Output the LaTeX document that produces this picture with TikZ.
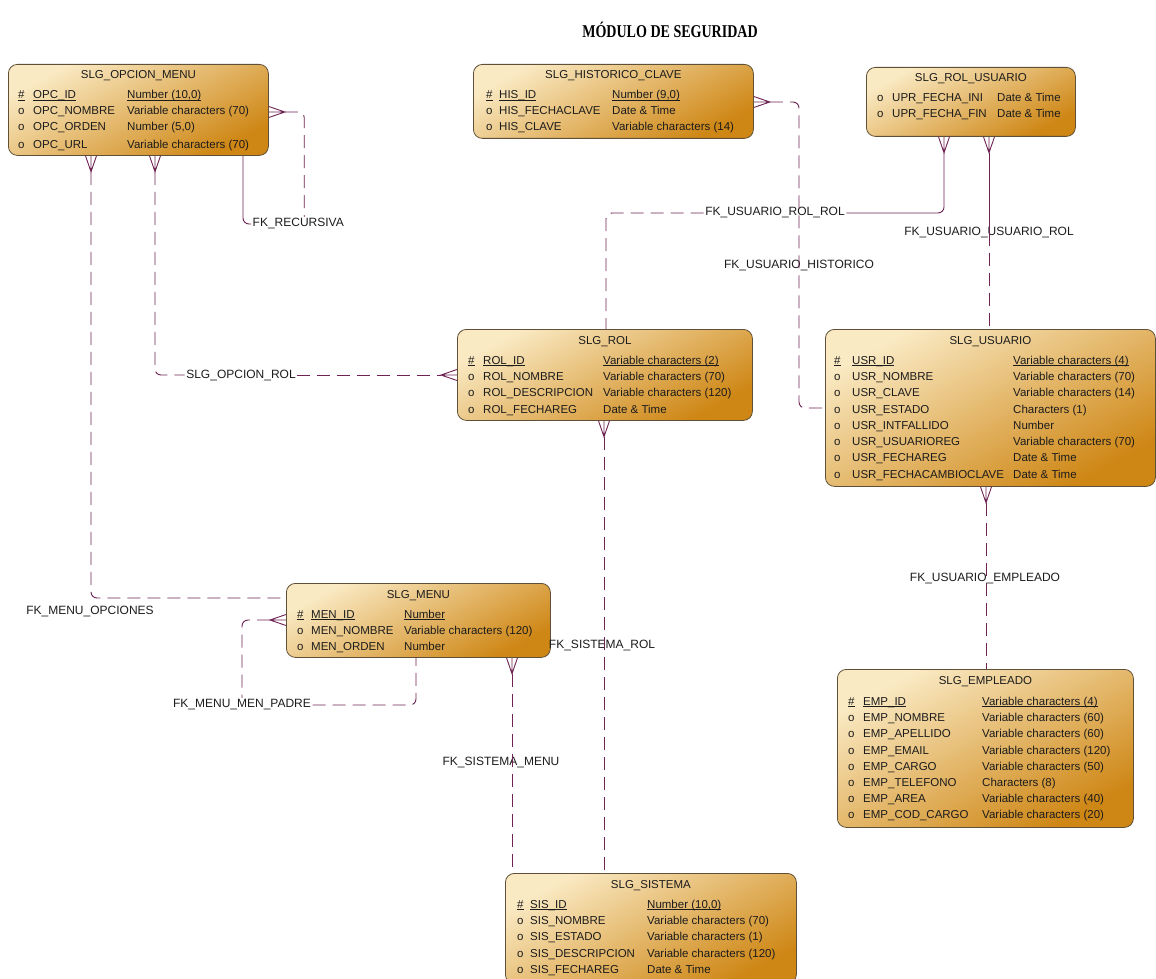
\documentclass[tikz,border=0pt]{standalone}
\usepackage{fontspec}
\usepackage{graphicx}
\setmainfont{Liberation Sans}
\newfontfamily\titlefont{Liberation Serif}
\usetikzlibrary{calc}
\definecolor{relc}{RGB}{110,35,82}
\definecolor{boxlight}{RGB}{250,234,196}
\definecolor{boxmid}{RGB}{234,176,90}
\definecolor{boxdark}{RGB}{206,134,20}
\definecolor{boxedge}{RGB}{95,80,55}
\definecolor{txt}{RGB}{28,28,28}
\newcommand\ulx[1]{\setbox0\hbox{#1}\rlap{\rule[-1.7pt]{\wd0}{0.6pt}}\box0}
\tikzset{
  entity/.style={draw=boxedge, line width=0.8pt, rounded corners=9pt,
    top color=boxlight, middle color=boxmid, bottom color=boxdark, shading angle=28,
    anchor=north west, inner sep=0pt},
  etitle/.style={font=\fontsize{11.5}{12}\selectfont, text=txt, inner sep=0pt, anchor=base},
  fld/.style={font=\fontsize{11.5}{12}\selectfont, text=txt, inner sep=0pt, anchor=base west},
  rlabel/.style={font=\fontsize{12}{13}\selectfont, text=txt, inner sep=1.5pt},
  relline/.style={draw=relc, line width=0.9pt, rounded corners=6pt},
  reldash/.style={relline, dash pattern=on 13pt off 7pt},
  cfdown/.pic={\draw[draw=relc, line width=0.9pt] (-5.5,0) -- (0,-16) -- (5.5,0) (0,0) -- (0,-16);},
  cfright/.pic={\draw[draw=relc, line width=0.9pt] (0,5.5) -- (16,0) -- (0,-5.5) (0,0) -- (16,0);},
  cfleft/.pic={\draw[draw=relc, line width=0.9pt] (0,5.5) -- (-16,0) -- (0,-5.5) (0,0) -- (-16,0);}
}
\newcommand\ent[6]{%
  \node[entity, minimum width=#4pt, minimum height=#5pt] (#1) at (#2,-#3) {};
  \node[etitle] (#1-title) at ($(#1.north)+(0,-15)$) {#6};}
\newcommand\fld[8]{%
  \node[fld] (#1m) at (#3,-#2) {#6};
  \node[fld] (#1n) at (#4,-#2) {#7};
  \node[fld] (#1t) at (#5,-#2) {#8};}
\begin{document}
\begin{tikzpicture}[x=1pt,y=1pt]
\fill[white] (0,0) rectangle (1156,-979);
\useasboundingbox (0,0) rectangle (1156,-979);

\node[font=\titlefont\bfseries\fontsize{18}{20}\selectfont, text=black] (title) at (670,-30)
  {\scalebox{0.78}[1]{MÓDULO DE SEGURIDAD}};

% ---------------- entities ----------------
\ent{opc}{8}{64}{260}{91}{SLG\_OPCION\_MENU}
\fld{opc1}{99}{18}{33}{127}{\ulx{\#}}{\ulx{OPC\_ID}}{\ulx{Number (10,0)}}
\fld{opc2}{115}{18}{33}{127}{o}{OPC\_NOMBRE}{Variable characters (70)}
\fld{opc3}{131}{18}{33}{127}{o}{OPC\_ORDEN}{Number (5,0)}
\fld{opc4}{148}{18}{33}{127}{o}{OPC\_URL}{Variable characters (70)}

\ent{his}{473}{64}{280}{74}{SLG\_HISTORICO\_CLAVE}
\fld{his1}{99}{486}{499}{612}{\ulx{\#}}{\ulx{HIS\_ID}}{\ulx{Number (9,0)}}
\fld{his2}{115}{486}{499}{612}{o}{HIS\_FECHACLAVE}{Date \& Time}
\fld{his3}{131}{486}{499}{612}{o}{HIS\_CLAVE}{Variable characters (14)}

\ent{ru}{866}{67}{209}{69}{SLG\_ROL\_USUARIO}
\fld{ru1}{102}{877}{892}{997}{o}{UPR\_FECHA\_INI}{Date \& Time}
\fld{ru2}{118}{877}{892}{997}{o}{UPR\_FECHA\_FIN}{Date \& Time}

\ent{rol}{457}{329}{295}{91}{SLG\_ROL}
\fld{rol1}{364}{468}{483}{603}{\ulx{\#}}{\ulx{ROL\_ID}}{\ulx{Variable characters (2)}}
\fld{rol2}{380}{468}{483}{603}{o}{ROL\_NOMBRE}{Variable characters (70)}
\fld{rol3}{396}{468}{483}{603}{o}{ROL\_DESCRIPCION}{Variable characters (120)}
\fld{rol4}{413}{468}{483}{603}{o}{ROL\_FECHAREG}{Date \& Time}

\ent{usr}{825}{329}{330}{157}{SLG\_USUARIO}
\fld{usr1}{364}{834}{852}{1013}{\ulx{\#}}{\ulx{USR\_ID}}{\ulx{Variable characters (4)}}
\fld{usr2}{380}{834}{852}{1013}{o}{USR\_NOMBRE}{Variable characters (70)}
\fld{usr3}{396}{834}{852}{1013}{o}{USR\_CLAVE}{Variable characters (14)}
\fld{usr4}{413}{834}{852}{1013}{o}{USR\_ESTADO}{Characters (1)}
\fld{usr5}{429}{834}{852}{1013}{o}{USR\_INTFALLIDO}{Number}
\fld{usr6}{445}{834}{852}{1013}{o}{USR\_USUARIOREG}{Variable characters (70)}
\fld{usr7}{461}{834}{852}{1013}{o}{USR\_FECHAREG}{Date \& Time}
\fld{usr8}{478}{834}{852}{1013}{o}{USR\_FECHACAMBIOCLAVE}{Date \& Time}

\ent{menu}{286}{583}{264}{74}{SLG\_MENU}
\fld{men1}{618}{297}{311}{404}{\ulx{\#}}{\ulx{MEN\_ID}}{\ulx{Number}}
\fld{men2}{634}{297}{311}{404}{o}{MEN\_NOMBRE}{Variable characters (120)}
\fld{men3}{650}{297}{311}{404}{o}{MEN\_ORDEN}{Number}

\ent{emp}{837}{669}{296}{158}{SLG\_EMPLEADO}
\fld{emp1}{705}{848}{863}{982}{\ulx{\#}}{\ulx{EMP\_ID}}{\ulx{Variable characters (4)}}
\fld{emp2}{721}{848}{863}{982}{o}{EMP\_NOMBRE}{Variable characters (60)}
\fld{emp3}{737}{848}{863}{982}{o}{EMP\_APELLIDO}{Variable characters (60)}
\fld{emp4}{754}{848}{863}{982}{o}{EMP\_EMAIL}{Variable characters (120)}
\fld{emp5}{770}{848}{863}{982}{o}{EMP\_CARGO}{Variable characters (50)}
\fld{emp6}{786}{848}{863}{982}{o}{EMP\_TELEFONO}{Characters (8)}
\fld{emp7}{802}{848}{863}{982}{o}{EMP\_AREA}{Variable characters (40)}
\fld{emp8}{818}{848}{863}{982}{o}{EMP\_COD\_CARGO}{Variable characters (20)}

\ent{sis}{505}{873}{291}{110}{SLG\_SISTEMA}
\fld{sis1}{908}{517}{530}{647}{\ulx{\#}}{\ulx{SIS\_ID}}{\ulx{Number (10,0)}}
\fld{sis2}{924}{517}{530}{647}{o}{SIS\_NOMBRE}{Variable characters (70)}
\fld{sis3}{940}{517}{530}{647}{o}{SIS\_ESTADO}{Variable characters (1)}
\fld{sis4}{957}{517}{530}{647}{o}{SIS\_DESCRIPCION}{Variable characters (120)}
\fld{sis5}{973}{517}{530}{647}{o}{SIS\_FECHAREG}{Date \& Time}

% ---------------- attachment points ----------------
\coordinate (opcR)   at ($(opc.north east)+(0,-48)$);
\coordinate (opcB1)  at ($(opc.south west)+(83,0)$);
\coordinate (opcB2)  at ($(opc.south west)+(147,0)$);
\coordinate (opcB3)  at ($(opc.south west)+(235,0)$);
\coordinate (hisR)   at ($(his.north east)+(0,-38)$);
\coordinate (ruB1)   at ($(ru.south west)+(78,0)$);
\coordinate (ruB2)   at ($(ru.south west)+(123,0)$);
\coordinate (rolL)   at ($(rol.north west)+(0,-46)$);
\coordinate (rolT)   at ($(rol.north west)+(149,0)$);
\coordinate (rolB)   at ($(rol.south west)+(147,0)$);
\coordinate (usrL)   at ($(usr.north west)+(0,-79)$);
\coordinate (usrB)   at ($(usr.south west)+(161,0)$);
\coordinate (menuL1) at ($(menu.north west)+(0,-15)$);
\coordinate (menuL2) at ($(menu.north west)+(0,-37)$);
\coordinate (menuB1) at ($(menu.south west)+(130,0)$);
\coordinate (menuB2) at ($(menu.south west)+(226,0)$);

% ---------------- relationship labels ----------------
\node[rlabel, anchor=west] (lrec) at (251,-224) {FK\_RECURSIVA};
\node[rlabel] (lmo)  at (90,-611) {FK\_MENU\_OPCIONES};
\node[rlabel] (lor)  at (241,-375) {SLG\_OPCION\_ROL};
\node[rlabel] (lurr) at (775,-213) {FK\_USUARIO\_ROL\_ROL};
\node[rlabel] (luur) at ($(ruB2)+(0,-96)$) {FK\_USUARIO\_USUARIO\_ROL};
\node[rlabel] (lhis) at (799,-266) {FK\_USUARIO\_HISTORICO};
\node[rlabel] (lsr)  at (602,-645) {FK\_SISTEMA\_ROL};
\node[rlabel] (lsm)  at (501,-762) {FK\_SISTEMA\_MENU};
\node[rlabel] (lpad) at (242,-705) {FK\_MENU\_MEN\_PADRE};
\node[rlabel] (lue)  at (985,-578) {FK\_USUARIO\_EMPLEADO};

% ---------------- connectors ----------------
% FK_RECURSIVA
\draw[relline] (opcB3) |- (lrec.west);
\draw[reldash] ($(opcR)+(16,0)$) -| ([xshift=6pt]lrec.north);
% FK_MENU_OPCIONES
\draw[reldash] ($(opcB1)+(0,-16)$) |- (menuL1);
% SLG_OPCION_ROL
\draw[reldash] ($(opcB2)+(0,-16)$) |- (lor.west);
\draw[reldash] (lor.east) -- ($(rolL)+(-16,0)$);
% FK_USUARIO_ROL_ROL
\draw[relline] ($(ruB1)+(0,-16)$) |- (lurr.east);
\draw[reldash] (lurr.west) -| (rolT);
% FK_USUARIO_USUARIO_ROL
\draw[relline] ($(ruB2)+(0,-16)$) -- (luur.center);
\draw[reldash] (luur.center) -- (usr.north -| ruB2);
% FK_USUARIO_HISTORICO
\draw[reldash] ($(hisR)+(16,0)$) -| (lhis.center) |- (usrL);
% FK_SISTEMA_ROL
\draw[reldash] ($(rolB)+(0,-16)$) -- (sis.north -| rolB);
% FK_SISTEMA_MENU
\draw[reldash] ($(menuB2)+(0,-16)$) -- (sis.north -| menuB2);
% FK_MENU_MEN_PADRE
\draw[reldash] ($(menuL2)+(-16,0)$) -| (lpad.north);
\draw[reldash] (lpad.east) -| (menuB1);
% FK_USUARIO_EMPLEADO
\draw[reldash] ($(usrB)+(0,-16)$) -- (emp.north -| usrB);

% ---------------- crow's feet ----------------
\pic at (opcR) {cfright};
\pic at (opcB1) {cfdown};
\pic at (opcB2) {cfdown};
\pic at (hisR) {cfright};
\pic at (ruB1) {cfdown};
\pic at (ruB2) {cfdown};
\pic at (rolL) {cfleft};
\pic at (rolB) {cfdown};
\pic at (menuL2) {cfleft};
\pic at (menuB2) {cfdown};
\pic at (usrB) {cfdown};
\end{tikzpicture}
\end{document}
